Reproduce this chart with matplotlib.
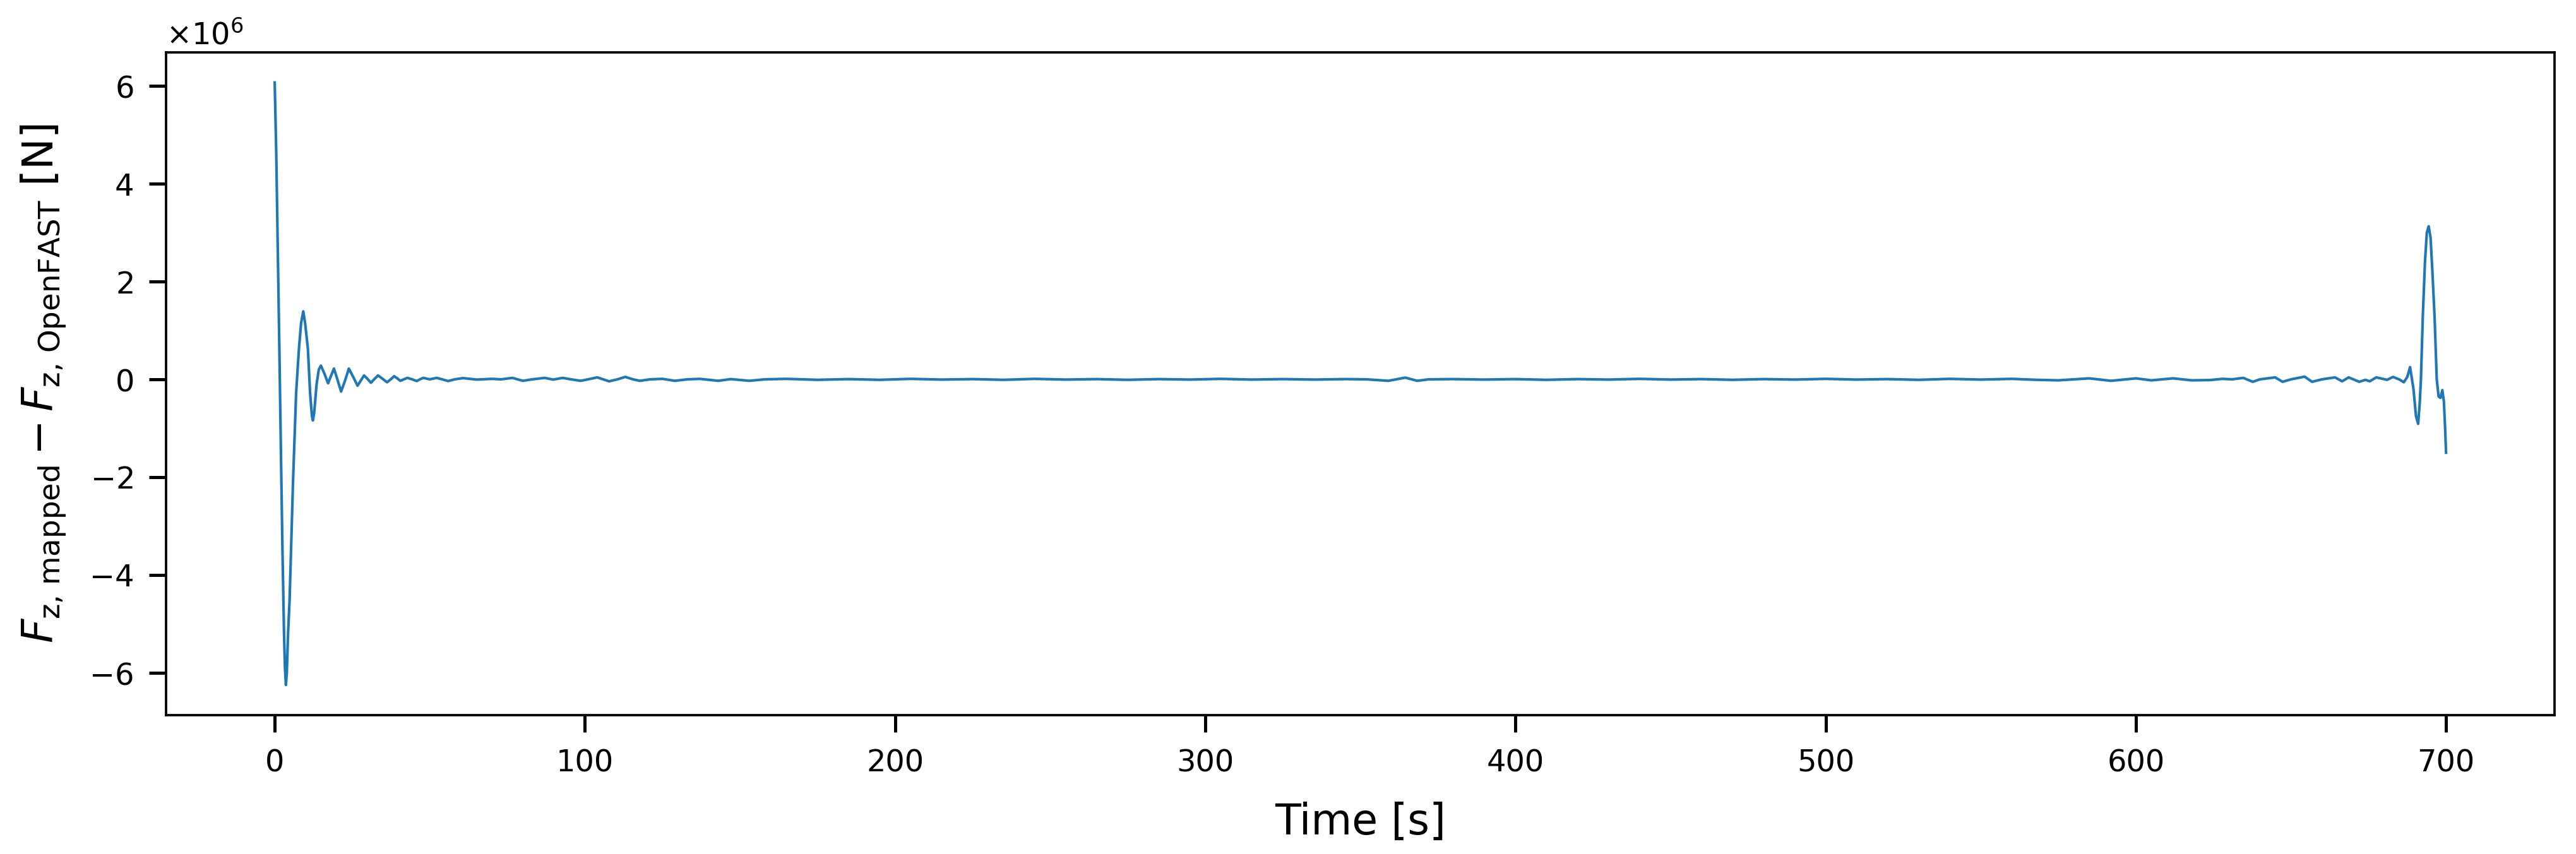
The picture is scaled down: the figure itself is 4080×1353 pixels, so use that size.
import matplotlib
matplotlib.use("Agg")
import matplotlib.pyplot as plt
import numpy as np

# Time [s] and force difference [x1e6 N]
time_s = [
    0.0, 0.5, 1.0, 1.5, 2.0, 2.5, 3.0, 3.3, 3.6, 3.9, 4.3, 4.8, 5.9, 6.9, 7.8, 8.5,
    9.2, 9.8, 10.7, 11.4, 12.0, 12.3, 12.7, 13.5, 14.2, 14.9, 16.0, 17.2, 18.2, 19.1,
    20.2, 21.4, 22.7, 23.9, 25.3, 26.7, 27.8, 28.8, 29.9, 31.0, 32.2, 33.3, 34.8, 36.2,
    37.4, 38.5, 39.5, 40.5, 41.6, 42.8, 44.3, 45.8, 46.8, 47.9, 50.0, 52.2, 54.0, 55.9,
    58.0, 60.7, 65.1, 70.0, 73.0, 76.6, 80.0, 83.0, 87.0, 89.8, 92.8, 95.5, 98.6, 101.0,
    104.0, 107.8, 110.5, 113.0, 115.5, 117.7, 121.0, 125.0, 129.0, 133.0, 137.0, 143.0,
    147.0, 153.0, 158.0, 165.0, 175.0, 185.0, 195.0, 205.0, 215.0, 225.0, 235.0, 245.0,
    255.0, 265.0, 275.0, 285.0, 295.0, 305.0, 315.0, 325.0, 335.0, 345.0, 352.0, 359.0,
    364.5, 368.3, 372.0, 380.0, 390.0, 400.0, 410.0, 420.0, 430.0, 440.0, 450.0, 460.0,
    470.0, 480.0, 490.0, 500.0, 510.0, 520.0, 530.0, 540.0, 550.0, 560.0, 568.0, 575.0,
    585.0, 592.0, 600.0, 605.0, 612.0, 618.0, 623.8, 627.9, 631.0, 634.6, 637.7, 640.0,
    644.9, 647.3, 650.0, 654.4, 656.8, 660.0, 664.2, 666.5, 668.6, 672.0, 674.0, 675.4,
    677.5, 681.0, 682.9, 685.0, 686.4, 687.5, 688.4, 689.5, 690.3, 691.0, 691.5, 691.9,
    692.5, 693.2, 693.8, 694.4, 695.0, 695.6, 696.3, 697.0, 697.6, 698.2, 698.8, 699.3,
    699.7, 700.0,
]
force_diff_1e6 = [
    6.07, 4.6, 2.6, 0.6, -1.5, -3.5, -5.2, -5.9, -6.25, -6.0, -5.2, -4.5, -2.09, -0.28, 0.62, 1.15,
    1.39, 1.15, 0.62, -0.28, -0.75, -0.84, -0.7, -0.1, 0.2, 0.28, 0.12, -0.08, 0.08, 0.22,
    0.0, -0.25, -0.02, 0.22, 0.05, -0.13, -0.02, 0.08, 0.01, -0.07, 0.01, 0.08, 0.01, -0.06,
    0.0, 0.065, 0.02, -0.03, 0.0, 0.03, 0.0, -0.035, 0.0, 0.03, 0.0, 0.03, 0.0, -0.035,
    0.0, 0.025, -0.005, 0.01, 0.0, 0.03, -0.03, 0.0, 0.03, -0.005, 0.03, 0.0, -0.03, 0.0,
    0.04, -0.04, 0.0, 0.05, 0.0, -0.03, 0.0, 0.01, -0.03, 0.0, 0.01, -0.03,
    0.005, -0.03, 0.0, 0.01, -0.01, 0.005, -0.01, 0.01, -0.005, 0.005, -0.01, 0.01,
    -0.005, 0.005, -0.01, 0.005, -0.005, 0.01, -0.005, 0.005, -0.005, 0.005, 0.0, -0.03,
    0.035, -0.03, 0.0, 0.005, -0.005, 0.005, -0.01, 0.005, -0.005, 0.01, -0.005, 0.005,
    -0.01, 0.005, -0.005, 0.01, -0.005, 0.005, -0.01, 0.01, -0.005, 0.01, -0.01, -0.02,
    0.02, -0.03, 0.02, -0.02, 0.02, -0.02, -0.015, 0.01, 0.0, 0.03, -0.05, 0.0,
    0.04, -0.05, 0.0, 0.055, -0.05, 0.0, 0.04, -0.04, 0.04, -0.05, -0.01, -0.04,
    0.04, -0.01, 0.05, -0.005, -0.06, 0.05, 0.25, -0.2, -0.75, -0.91, -0.5, 0.0,
    1.28, 2.4, 3.0, 3.13, 2.9, 2.2, 1.28, 0.0, -0.35, -0.38, -0.22, -0.45,
    -1.0, -1.5,
]

t = np.array(time_s)
f = np.array(force_diff_1e6) * 1e6

plt.rcParams['font.family'] = ['DejaVu Sans']
fig = plt.figure(figsize=(13.6, 4.51), dpi=300)
ax = fig.add_axes([0.0645, 0.1626, 0.9272, 0.7761])
ax.plot(t, f, color='#1f77b4', lw=1.0)

ax.set_xlabel('Time [s]', fontsize=16, labelpad=9)
ax.set_ylabel(r'$F_{\text{z, mapped}} - F_{\text{z, OpenFAST}}$ [N]', fontsize=16, labelpad=8)
ax.tick_params(axis='both', labelsize=11.5, length=6.5, width=1.2, pad=6)
ax.ticklabel_format(axis='y', style='sci', scilimits=(0, 0), useMathText=True)
ax.yaxis.get_offset_text().set_fontsize(11.5)
for sp in ax.spines.values():
    sp.set_linewidth(0.9)
ax.set_xticks([0, 100, 200, 300, 400, 500, 600, 700])
ax.set_yticks(np.array([-6, -4, -2, 0, 2, 4, 6]) * 1e6)

fig.savefig('out.png', dpi=300)
